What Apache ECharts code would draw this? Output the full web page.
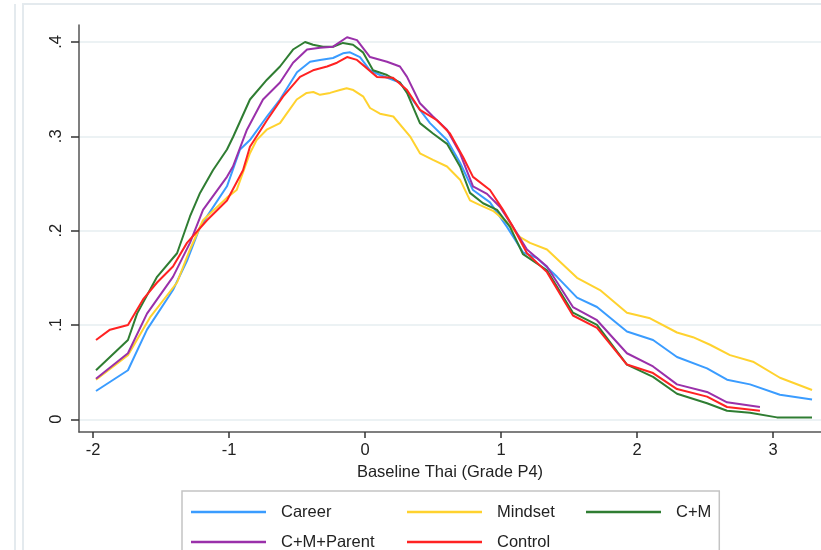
<!DOCTYPE html>
<html>
<head>
<meta charset="utf-8">
<script src="https://cdn.jsdelivr.net/npm/echarts@6/dist/echarts.min.js"></script>
<style>
  html, body { margin: 0; padding: 0; background: #fff; }
  #chart { width: 821px; height: 550px; }
</style>
</head>
<body>
<div id="chart"></div>
<script>
// Kernel density of baseline Thai score (Grade P4), one curve per treatment arm.
const seriesNames = ['Career', 'Mindset', 'C+M', 'C+M+Parent', 'Control'];
const xTicks = [-2, -1, 0, 1, 2, 3];
const yTicks = [0, 0.1, 0.2, 0.3, 0.4];

const career = [[-1.978,0.030],[-1.743,0.052],[-1.603,0.095],[-1.412,0.137],[-1.309,0.168],[-1.213,0.204],[-1.015,0.247],[-0.919,0.286],[-0.846,0.296],[-0.721,0.321],[-0.625,0.339],[-0.500,0.368],[-0.404,0.379],[-0.331,0.381],[-0.235,0.383],[-0.162,0.388],[-0.110,0.389],[-0.037,0.384],[0.037,0.370],[0.110,0.365],[0.257,0.357],[0.404,0.328],[0.478,0.314],[0.603,0.296],[0.699,0.272],[0.794,0.243],[0.919,0.230],[1.044,0.204],[1.162,0.177],[1.265,0.171],[1.412,0.151],[1.559,0.129],[1.706,0.119],[1.926,0.093],[2.118,0.084],[2.294,0.066],[2.515,0.054],[2.662,0.042],[2.831,0.037],[3.051,0.026],[3.287,0.021]];

const mindset = [[-1.978,0.042],[-1.743,0.068],[-1.581,0.108],[-1.382,0.145],[-1.287,0.180],[-1.191,0.211],[-1.015,0.235],[-0.944,0.243],[-0.846,0.282],[-0.797,0.296],[-0.723,0.307],[-0.625,0.314],[-0.576,0.324],[-0.502,0.339],[-0.429,0.346],[-0.380,0.347],[-0.331,0.344],[-0.257,0.346],[-0.184,0.349],[-0.135,0.351],[-0.086,0.349],[-0.012,0.342],[0.037,0.330],[0.110,0.324],[0.208,0.321],[0.331,0.300],[0.404,0.282],[0.500,0.275],[0.603,0.268],[0.699,0.254],[0.772,0.232],[0.846,0.227],[0.941,0.221],[1.044,0.209],[1.140,0.193],[1.213,0.187],[1.338,0.180],[1.559,0.150],[1.728,0.137],[1.926,0.113],[2.096,0.107],[2.294,0.092],[2.412,0.087],[2.537,0.079],[2.684,0.068],[2.853,0.061],[3.051,0.044],[3.287,0.031]];

const cm = [[-1.978,0.052],[-1.743,0.084],[-1.676,0.112],[-1.529,0.151],[-1.382,0.176],[-1.287,0.215],[-1.213,0.240],[-1.118,0.264],[-1.015,0.286],[-0.971,0.299],[-0.846,0.339],[-0.721,0.360],[-0.625,0.374],[-0.529,0.392],[-0.441,0.400],[-0.382,0.397],[-0.309,0.395],[-0.235,0.395],[-0.162,0.399],[-0.088,0.397],[-0.015,0.389],[0.059,0.370],[0.162,0.365],[0.257,0.357],[0.309,0.346],[0.404,0.314],[0.500,0.303],[0.603,0.292],[0.699,0.268],[0.772,0.240],[0.868,0.229],[0.971,0.222],[1.066,0.204],[1.162,0.175],[1.338,0.158],[1.529,0.113],[1.706,0.100],[1.926,0.058],[2.118,0.045],[2.294,0.027],[2.515,0.017],[2.662,0.009],[2.831,0.007],[3.029,0.002],[3.287,0.002]];

const cmParent = [[-1.978,0.043],[-1.743,0.070],[-1.603,0.112],[-1.412,0.151],[-1.287,0.187],[-1.191,0.222],[-1.015,0.257],[-0.971,0.268],[-0.868,0.307],[-0.750,0.339],[-0.625,0.357],[-0.529,0.378],[-0.426,0.392],[-0.331,0.394],[-0.235,0.395],[-0.132,0.405],[-0.059,0.402],[0.037,0.384],[0.162,0.379],[0.257,0.374],[0.309,0.363],[0.404,0.335],[0.500,0.321],[0.603,0.307],[0.699,0.282],[0.794,0.247],[0.897,0.239],[0.993,0.225],[1.088,0.204],[1.191,0.180],[1.338,0.162],[1.529,0.119],[1.706,0.105],[1.926,0.070],[2.118,0.056],[2.294,0.037],[2.515,0.029],[2.662,0.018],[2.904,0.013]];

const control = [[-1.978,0.084],[-1.875,0.095],[-1.743,0.100],[-1.632,0.127],[-1.529,0.145],[-1.412,0.162],[-1.309,0.187],[-1.162,0.211],[-1.015,0.232],[-0.897,0.264],[-0.846,0.289],[-0.721,0.317],[-0.603,0.342],[-0.478,0.363],[-0.382,0.370],[-0.279,0.374],[-0.206,0.378],[-0.132,0.384],[-0.059,0.381],[0.015,0.372],[0.088,0.363],[0.206,0.362],[0.309,0.349],[0.404,0.328],[0.529,0.317],[0.625,0.303],[0.721,0.278],[0.794,0.257],[0.919,0.243],[1.015,0.222],[1.088,0.204],[1.191,0.176],[1.338,0.156],[1.529,0.110],[1.706,0.097],[1.926,0.058],[2.118,0.049],[2.294,0.032],[2.515,0.024],[2.662,0.013],[2.904,0.009]];

const seriesData = [career, mindset, cm, cmParent, control];
const colors = ['#3a9cff', '#ffd22e', '#2f7d32', '#9a30aa', '#ff2222'];

const FONT = '"Liberation Sans", Arial, sans-serif';
const TEXT = '#222';

const chart = echarts.init(document.getElementById('chart'), null, { renderer: 'canvas' });

chart.setOption({
  animation: false,
  backgroundColor: '#fff',
  textStyle: { fontFamily: FONT },
  graphic: [
    { type: 'line', shape: { x1: 15, y1: 4, x2: 15, y2: 560 }, style: { stroke: '#e4eaee', lineWidth: 2 }, silent: true },
    { type: 'rect', shape: { x: 23, y: 4, width: 900, height: 600 }, style: { fill: 'none', stroke: '#e4eaee', lineWidth: 2 }, silent: true }
  ],
  grid: { left: 79, right: 0, top: 25, bottom: 118, containLabel: false },
  xAxis: {
    type: 'value',
    min: -2.103,
    max: 3.353,
    name: 'Baseline Thai (Grade P4)',
    nameLocation: 'middle',
    nameGap: 28,
    nameTextStyle: { fontSize: 16.5, color: TEXT, fontFamily: FONT },
    axisLine: { show: true, onZero: false, lineStyle: { color: '#555', width: 1.5 } },
    axisTick: { show: true, customValues: xTicks, length: 6, lineStyle: { color: '#333', width: 1.5 } },
    axisLabel: { customValues: xTicks, fontSize: 16.5, color: TEXT, margin: 10, fontFamily: FONT },
    splitLine: { show: false }
  },
  yAxis: {
    type: 'value',
    min: -0.0135,
    max: 0.418,
    axisLine: { show: true, onZero: false, lineStyle: { color: '#555', width: 1.5 } },
    axisTick: { show: true, customValues: yTicks, length: 8, lineStyle: { color: '#333', width: 1.5 } },
    axisLabel: {
      customValues: yTicks,
      rotate: 90,
      fontSize: 16.5,
      color: TEXT,
      margin: 14,
      fontFamily: FONT,
      formatter: v => (v === 0 ? '0' : String(+v.toFixed(1)).replace(/^0/, ''))
    },
    splitLine: { show: true, lineStyle: { color: '#e6eef1', width: 1.5 } }
  },
  legend: {
    left: 182,
    top: 491,
    width: 560,
    orient: 'horizontal',
    icon: 'rect',
    itemWidth: 75,
    itemHeight: 2.5,
    itemGap: 10,
    padding: [11, 8, 30, 9],
    borderColor: '#c4c4c4',
    borderWidth: 1.5,
    borderRadius: 0,
    textStyle: { fontSize: 16.5, color: TEXT, fontFamily: FONT, lineHeight: 20 },
    data: [
      { name: 'Career', textStyle: { width: 94, padding: [0, 22, 0, 10] } },
      { name: 'Mindset', textStyle: { width: 58, padding: [0, 21, 0, 10] } },
      { name: 'C+M', textStyle: { padding: [0, 0, 0, 10] } },
      { name: 'C+M+Parent', textStyle: { width: 94, padding: [0, 22, 0, 10] } },
      { name: 'Control', textStyle: { width: 58, padding: [0, 21, 0, 10] } }
    ]
  },
  series: seriesNames.map((name, i) => ({
    name,
    type: 'line',
    data: seriesData[i],
    symbol: 'none',
    showSymbol: false,
    smooth: false,
    color: colors[i],
    itemStyle: { color: colors[i] },
    lineStyle: { color: colors[i], width: 2 },
    emphasis: { disabled: true }
  }))
});
</script>
</body>
</html>
